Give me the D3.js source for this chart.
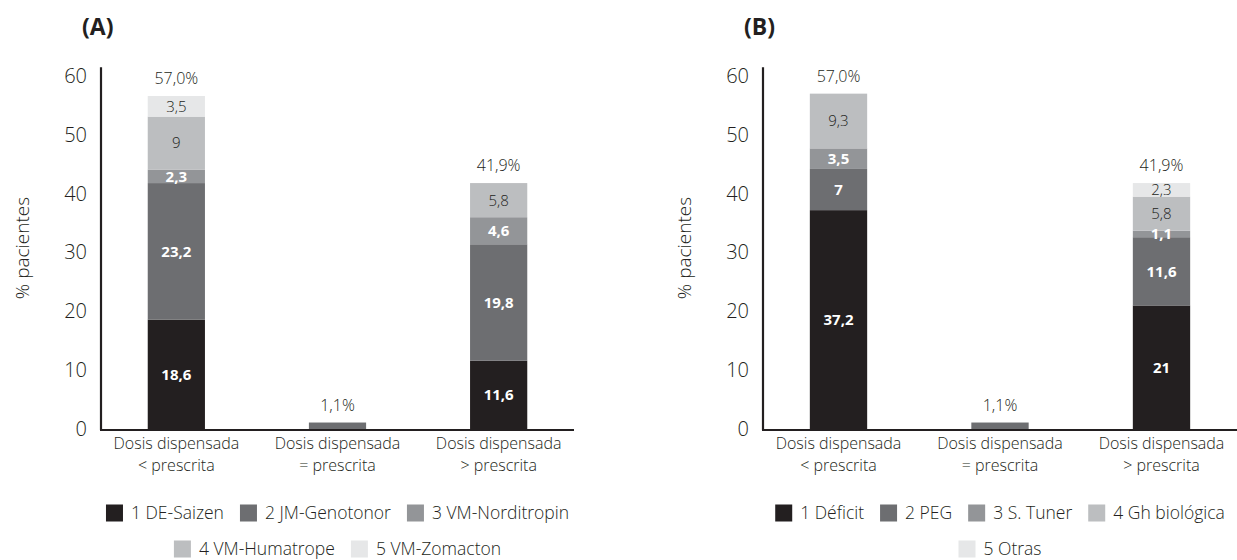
<!DOCTYPE html>
<html>
<head>
<meta charset="utf-8">
<script src="https://cdn.jsdelivr.net/npm/d3@7"></script>
<style>
  body { margin: 0; background: #fff; }
  svg { display: block; font-family: 'Open Sans', 'Noto Sans', sans-serif; }
</style>
</head>
<body>
<div id="chart"></div>
<script>
// Categories shared by both panels (two lines each)
const categories = ['lt', 'eq', 'gt'];
const categoryLines = [
  ['Dosis dispensada', '< prescrita'],
  ['Dosis dispensada', '= prescrita'],
  ['Dosis dispensada', '> prescrita']
];
const yTicks = [0, 10, 20, 30, 40, 50, 60];

// Panel A
const seriesA = ['1 DE-Saizen', '2 JM-Genotonor', '3 VM-Norditropin', '4 VM-Humatrope', '5 VM-Zomacton'];
const valuesA = [
  [18.6, 23.2, 2.3, 9, 3.5],
  [0, 1.1, 0, 0, 0],
  [11.6, 19.8, 4.6, 5.8, 0]
];
const totalsA = ['57,0%', '1,1%', '41,9%'];

// Panel B
const seriesB = ['1 Déficit', '2 PEG', '3 S. Tuner', '4 Gh biológica', '5 Otras'];
const valuesB = [
  [37.2, 7, 3.5, 9.3, 0],
  [0, 1.1, 0, 0, 0],
  [21, 11.6, 1.1, 5.8, 2.3]
];
const totalsB = ['57,0%', '1,1%', '41,9%'];

const colors = ['#231f20', '#6d6e71', '#939598', '#bcbec0', '#e6e7e8'];
const textDark = '#231f20';
const lightW = 300;

const W = 1237, H = 560;
const svg = d3.select('#chart').append('svg').attr('width', W).attr('height', H);

const y = d3.scaleLinear().domain([0, 60]).range([429, 76]);

function drawPanel(opts) {
  const { title, titleX, axisX, xEnd, series, values, totals, legendRows, yLabelX } = opts;
  const g = svg.append('g');

  const x = d3.scaleBand().domain(categories).range([axisX, xEnd])
    .paddingInner(0.645).paddingOuter(0.29);

  // title
  g.append('text').attr('x', titleX).attr('y', 35)
    .attr('font-size', 23).attr('font-weight', 'bold').attr('fill', textDark)
    .text(title);

  // y label
  g.append('text')
    .attr('transform', `translate(${yLabelX},248) rotate(-90)`)
    .attr('text-anchor', 'middle').attr('font-size', 19).attr('font-weight', lightW)
    .attr('fill', textDark)
    .text('% pacientes');

  // stacked data
  const rows = categories.map((c, i) => {
    const r = { cat: c };
    series.forEach((s, j) => r['s' + j] = values[i][j]);
    return r;
  });
  const keys = series.map((s, j) => 's' + j);
  const stacked = d3.stack().keys(keys)(rows);

  const layers = g.selectAll('.layer').data(stacked).join('g')
    .attr('fill', (d, i) => colors[i]);
  layers.selectAll('rect').data(d => d).join('rect')
    .attr('x', d => x(d.data.cat))
    .attr('width', x.bandwidth())
    .attr('y', d => y(d[1]))
    .attr('height', d => y(d[0]) - y(d[1]));

  // segment labels (skip the small lone bar in the middle)
  stacked.forEach((layer, si) => {
    layer.forEach((d, ci) => {
      const v = d[1] - d[0];
      if (!v || categories[ci] === 'eq') return;
      g.append('text')
        .attr('x', x(d.data.cat) + x.bandwidth() / 2)
        .attr('y', (y(d[0]) + y(d[1])) / 2)
        .attr('dy', '0.36em')
        .attr('text-anchor', 'middle')
        .attr('font-size', 15)
        .attr('font-weight', si < 3 ? 'bold' : lightW)
        .attr('fill', si < 3 ? '#fff' : textDark)
        .text(String(values[ci][si]).replace('.', ','));
    });
  });

  // totals above bars
  categories.forEach((c, i) => {
    const tot = d3.sum(values[i]);
    g.append('text')
      .attr('x', x(c) + x.bandwidth() / 2)
      .attr('y', y(tot) - 12)
      .attr('text-anchor', 'middle').attr('font-size', 16).attr('font-weight', lightW)
      .attr('fill', textDark)
      .text(totals[i]);
  });

  // y axis
  const yAxis = g.append('g').attr('transform', `translate(${axisX},0)`)
    .call(d3.axisLeft(y).tickValues(yTicks).tickSize(0).tickPadding(14));
  yAxis.select('.domain').attr('d', `M0,${y(61.5)}V${y(0) + 1}`)
    .attr('stroke', textDark).attr('stroke-width', 2.2);
  yAxis.selectAll('text').attr('font-size', 20).attr('font-weight', lightW)
    .attr('fill', textDark)
    .attr('font-family', "'Open Sans', sans-serif");

  // x axis
  g.append('line').attr('x1', axisX - 1).attr('x2', xEnd)
    .attr('y1', y(0) + 1).attr('y2', y(0) + 1)
    .attr('stroke', textDark).attr('stroke-width', 2.2);
  categories.forEach((c, i) => {
    categoryLines[i].forEach((line, k) => {
      g.append('text').attr('x', x(c) + x.bandwidth() / 2).attr('y', 449 + k * 22)
        .attr('text-anchor', 'middle').attr('font-size', 16).attr('font-weight', lightW)
        .attr('fill', textDark).text(line);
    });
  });

  // legend, centred under the plot
  const cx = (axisX + xEnd) / 2;
  const sq = 17, gapText = 8, gapItem = 16;
  legendRows.forEach((row, ri) => {
    const ly = ri === 0 ? 513 : 549;
    const rowG = g.append('g');
    let cur = 0;
    row.forEach(si => {
      rowG.append('rect').attr('x', cur).attr('y', ly - sq / 2)
        .attr('width', sq).attr('height', sq).attr('fill', colors[si]);
      const t = rowG.append('text').attr('x', cur + sq + gapText).attr('y', ly)
        .attr('dy', '0.35em').attr('font-size', 17.5).attr('font-weight', lightW)
        .attr('fill', textDark)
        .text(series[si]);
      cur += sq + gapText + t.node().getComputedTextLength() + gapItem;
    });
    const rowW = cur - gapItem;
    rowG.attr('transform', `translate(${cx - rowW / 2},0)`);
  });
}

drawPanel({
  title: '(A)', titleX: 82, axisX: 101, xEnd: 574,
  series: seriesA, values: valuesA, totals: totalsA,
  legendRows: [[0, 1, 2], [3, 4]], yLabelX: 29
});

drawPanel({
  title: '(B)', titleX: 744, axisX: 763, xEnd: 1237,
  series: seriesB, values: valuesB, totals: totalsB,
  legendRows: [[0, 1, 2, 3], [4]], yLabelX: 691
});
</script>
</body>
</html>
